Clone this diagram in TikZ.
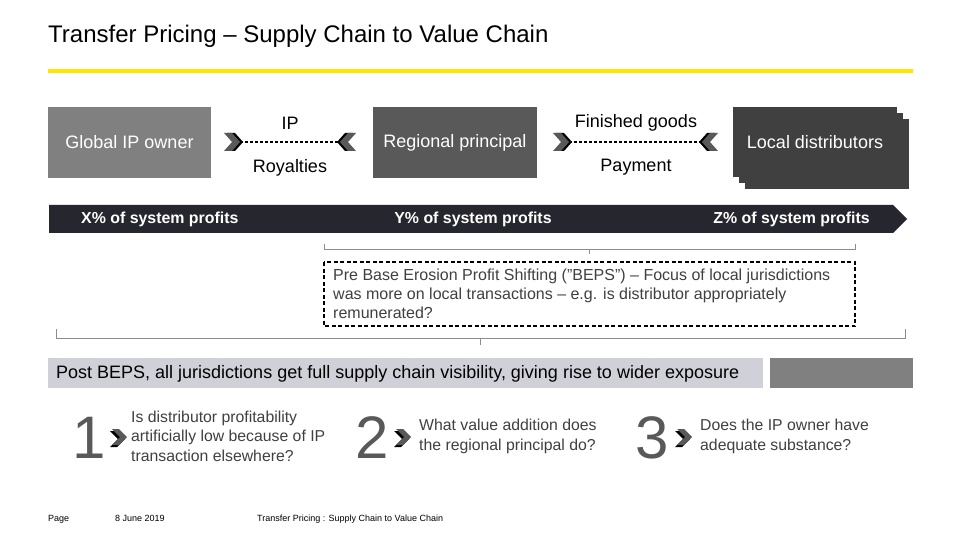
\documentclass[tikz,border=0pt]{standalone}
\usepackage{fontspec}
\setmainfont{Liberation Sans}
\definecolor{eyyellow}{HTML}{FFE600}
\definecolor{midgray}{HTML}{808080}
\definecolor{dkgray}{HTML}{595959}
\definecolor{darker}{HTML}{404040}
\definecolor{barcol}{HTML}{26262E}
\definecolor{lavgray}{HTML}{D0D0D8}
\definecolor{txtgray}{HTML}{404040}
\definecolor{linegray}{HTML}{8C8C8C}
\tikzset{
  entity/.style={minimum height=71pt, inner sep=0pt, font=\fontsize{18}{21}\selectfont, text=white},
  flowlbl/.style={inner sep=0pt, font=\fontsize{18}{21}\selectfont, text=black},
  profit/.style={inner sep=0pt, font=\fontsize{15.9}{18}\selectfont\bfseries, text=white},
  bigno/.style={inner sep=0pt, font=\fontsize{60}{60}\selectfont, text=dkgray},
  question/.style={inner sep=0pt, anchor=west, align=left, font=\fontsize{15.8}{19.5}\selectfont, text=txtgray},
  footer/.style={inner sep=0pt, anchor=base west, font=\fontsize{9}{10}\selectfont, text=black},
  brk/.style={draw=linegray, line width=0.8pt},
  flowline/.style={draw=black, line width=1.2pt, dash pattern=on 3pt off 2pt},
}
\newcommand{\chevR}[2]{%
  \fill[black] ($(#1)+(3,0)$) -- ++(-8,-9) -- ++(-8,0) -- ++(8,9) -- ++(-8,9) -- ++(8,0) -- cycle;
  \fill[#2] (#1) -- ++(-8,-9) -- ++(-8,0) -- ++(8,9) -- ++(-8,9) -- ++(8,0) -- cycle;}
\newcommand{\chevL}[2]{%
  \fill[black] ($(#1)+(-3,0)$) -- ++(8,-9) -- ++(8,0) -- ++(-8,9) -- ++(8,9) -- ++(-8,0) -- cycle;
  \fill[#2] (#1) -- ++(8,-9) -- ++(8,0) -- ++(-8,9) -- ++(8,9) -- ++(-8,0) -- cycle;}
\newcommand{\chevQ}[1]{%
  \fill[black] ($(#1)+(-2,2)$) -- ++(-8,-8) -- ++(-7,0) -- ++(8,8) -- ++(-8,8) -- ++(7,0) -- cycle;
  \fill[dkgray] (#1) -- ++(-8,-8) -- ++(-7,0) -- ++(8,8) -- ++(-8,8) -- ++(7,0) -- cycle;}
\usetikzlibrary{calc}
\begin{document}
\begin{tikzpicture}[x=1pt,y=-1pt]
\useasboundingbox (0,0) rectangle (961,540);
\fill[white] (0,0) rectangle (961,540);

% title
\node[anchor=base west, inner sep=0pt, font=\fontsize{24}{28}\selectfont, text=black] (title) at (48,43) {Transfer Pricing -- Supply Chain to Value Chain};
\fill[eyyellow] (48,69.5) rectangle (913,73);

% entities
\fill[midgray] (48,107) rectangle (211,178);
\node[entity] (gip) at (129.5,142.5) {Global IP owner};
\fill[dkgray] (373,107) rectangle (537,178);
\node[entity] (rp) at (455,142.5) {Regional principal};
\fill[darker] (745,119) rectangle (909,189);
\fill[darker] (739,113) rectangle (903,183);
\fill[darker] (733,107) rectangle (897,177);
\node[entity] (ld) at (815,142.5) {Local distributors};

% flows
\coordinate (c1) at (240,142);
\coordinate (c2) at (340,142);
\coordinate (c3) at (569,142);
\coordinate (c4) at (702,142);
\draw[flowline] (c1) -- (c2);
\draw[flowline] (c3) -- (c4);
\chevR{c1}{dkgray}
\chevL{c2}{dkgray}
\chevR{c3}{dkgray}
\chevL{c4}{dkgray}
\node[flowlbl] (ip) at (290,123) {IP};
\node[flowlbl] (roy) at (290,167.5) {Royalties};
\node[flowlbl] (fg) at (636,122.5) {Finished goods};
\node[flowlbl] (pay) at (636,167.5) {Payment};

% profit bar
\fill[barcol] (49,205) -- (893,205) -- (907,219) -- (893,233) -- (49,233) -- cycle;
\node[profit, anchor=west] (xp) at (81,219.5) {X\% of system profits};
\node[profit] (yp) at (473,219.5) {Y\% of system profits};
\node[profit, anchor=east] (zp) at (870,219.5) {Z\% of system profits};

% upper bracket
\coordinate (ub1) at (324,243.5);
\coordinate (ub2) at (855,243.5);
\draw[brk] (ub1) -- (324,249.5) -- (855,249.5) -- (ub2);
\draw[brk] (589,249.5) -- (589,254);

% dashed box
\draw[black, line width=1.6pt, dash pattern=on 4pt off 2.5pt] (324,262) rectangle (855,326);
\node[question, anchor=north west, font=\fontsize{16}{19}\selectfont] (pre) at (333,268.5) {Pre Base Erosion Profit Shifting ("BEPS") -- Focus of local jurisdictions\\was more on local transactions -- e.g. is distributor appropriately\\remunerated?};

% lower bracket
\coordinate (lb1) at (56,329);
\coordinate (lb2) at (905,329);
\draw[brk] (lb1) -- (56,338) -- (905,338) -- (lb2);
\draw[brk] (480,338) -- (480,345);

% post BEPS bar
\fill[lavgray] (48,358) rectangle (763,388);
\fill[midgray] (770,358) rectangle (913,388);
\node[inner sep=0pt, anchor=west, font=\fontsize{18}{21}\selectfont, text=black] (post) at (56,373.5) {Post BEPS, all jurisdictions get full supply chain visibility, giving rise to wider exposure};

% questions
\node[bigno] (n1) at (89,438) {1};
\coordinate (q1) at (127,437);
\chevQ{q1}
\node[question] (t1) at (131,436) {Is distributor profitability\\artificially low because of IP\\transaction elsewhere?};
\node[bigno] (n2) at (372,438) {2};
\coordinate (q2) at (411,437);
\chevQ{q2}
\node[question] (t2) at (419,436.5) {What value addition does\\the regional principal do?};
\node[bigno] (n3) at (652,438) {3};
\coordinate (q3) at (692,437);
\chevQ{q3}
\node[question] (t3) at (700,436.5) {Does the IP owner have\\adequate substance?};

% footer
\node[footer] (pg) at (48,521) {Page};
\node[footer] (dt) at (115,521) {8 June 2019};
\node[footer] (ft) at (257,521) {Transfer Pricing : Supply Chain to Value Chain};
\end{tikzpicture}
\end{document}
